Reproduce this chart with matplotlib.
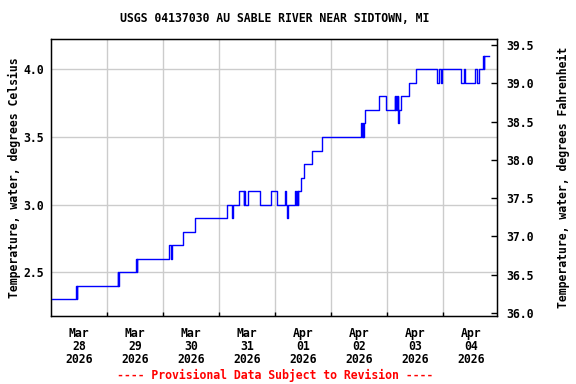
import matplotlib
matplotlib.use('Agg')
import matplotlib.pyplot as plt
import pandas as pd

# step change points (water temperature, deg C)
times = ['2026-03-28 00:00', '2026-03-28 10:45', '2026-03-28 11:00', '2026-03-28 11:15',
         '2026-03-29 04:30', '2026-03-29 04:45', '2026-03-29 05:00',
         '2026-03-29 12:30', '2026-03-29 12:45', '2026-03-29 13:00',
         '2026-03-30 02:45', '2026-03-30 03:30', '2026-03-30 03:45', '2026-03-30 08:45',
         '2026-03-30 13:45',
         '2026-03-31 03:15', '2026-03-31 05:45', '2026-03-31 06:00', '2026-03-31 08:45',
         '2026-03-31 10:30', '2026-03-31 10:45', '2026-03-31 11:00', '2026-03-31 12:30',
         '2026-03-31 17:45', '2026-03-31 22:15',
         '2026-04-01 00:45', '2026-04-01 04:15', '2026-04-01 04:30', '2026-04-01 05:15',
         '2026-04-01 05:30', '2026-04-01 08:45', '2026-04-01 09:00', '2026-04-01 09:30',
         '2026-04-01 09:45', '2026-04-01 10:00', '2026-04-01 11:15', '2026-04-01 12:30',
         '2026-04-01 15:45', '2026-04-01 20:15',
         '2026-04-02 13:00', '2026-04-02 13:15', '2026-04-02 13:30', '2026-04-02 13:45',
         '2026-04-02 14:15', '2026-04-02 14:45', '2026-04-02 20:30', '2026-04-02 23:30',
         '2026-04-03 03:15', '2026-04-03 03:30', '2026-04-03 03:45', '2026-04-03 04:15',
         '2026-04-03 04:30', '2026-04-03 04:45', '2026-04-03 05:15', '2026-04-03 06:00',
         '2026-04-03 09:30', '2026-04-03 12:30', '2026-04-03 21:15', '2026-04-03 22:15',
         '2026-04-03 23:00', '2026-04-03 23:45',
         '2026-04-04 07:45', '2026-04-04 09:00', '2026-04-04 09:30', '2026-04-04 13:30',
         '2026-04-04 14:30', '2026-04-04 15:15', '2026-04-04 17:15', '2026-04-04 17:30',
         '2026-04-04 17:45', '2026-04-04 19:45']
temps = [2.3, 2.4, 2.3, 2.4,
         2.5, 2.4, 2.5,
         2.6, 2.5, 2.6,
         2.7, 2.6, 2.7, 2.8,
         2.9,
         3.0, 2.9, 3.0, 3.1,
         3.0, 3.1, 3.0, 3.1,
         3.0, 3.1,
         3.0, 3.1, 3.0, 2.9,
         3.0, 3.1, 3.0, 3.1,
         3.0, 3.1, 3.2, 3.3,
         3.4, 3.5,
         3.6, 3.5, 3.6, 3.5,
         3.6, 3.7, 3.8, 3.7,
         3.8, 3.7, 3.8, 3.7,
         3.8, 3.6, 3.7, 3.8,
         3.9, 4.0, 3.9, 4.0,
         3.9, 4.0,
         3.9, 4.0, 3.9, 4.0,
         3.9, 4.0, 4.1, 4.0,
         4.1, 4.1]

day_labels = ['Mar\n28\n2026', 'Mar\n29\n2026', 'Mar\n30\n2026', 'Mar\n31\n2026',
              'Apr\n01\n2026', 'Apr\n02\n2026', 'Apr\n03\n2026', 'Apr\n04\n2026']
c_ticks = [2.5, 3.0, 3.5, 4.0]
f_ticks = [36.0, 36.5, 37.0, 37.5, 38.0, 38.5, 39.0, 39.5]

df = pd.DataFrame({'time': pd.to_datetime(times), 'temp': temps})

font = {'family': 'DejaVu Sans Mono', 'weight': 'bold', 'size': 8.3}

fig = plt.figure(figsize=(5.76, 3.84), dpi=100)
ax = fig.add_axes([51/576, 1 - 316/384, 446/576, 277/384])

ax.plot(df.time, df.temp, color='#0000ff', lw=1, drawstyle='steps-post', zorder=3)

start = pd.Timestamp('2026-03-28')
ax.set_xlim(start, start + pd.Timedelta(days=7.964))
ax.set_ylim(2.177, 4.224)

midnights = pd.date_range('2026-03-29', '2026-04-04', freq='D')
noons = pd.date_range('2026-03-28 12:00', '2026-04-04 12:00', freq='D')
ax.set_xticks(midnights)
ax.set_xticklabels([])
ax.set_xticks(noons, minor=True)
ax.set_xticklabels(day_labels, minor=True, fontdict=font, linespacing=0.97)
ax.tick_params(axis='x', which='major', direction='in', length=3, width=1)
ax.tick_params(axis='x', which='minor', length=0, pad=8)

ax.set_yticks(c_ticks)
ax.set_yticklabels(['%.1f' % v for v in c_ticks], fontdict=font)
ax.tick_params(axis='y', length=0, pad=5)
ax.grid(True, which='major', color='#cccccc', lw=1)

for s in ax.spines.values():
    s.set_linewidth(1)

ax2 = ax.twinx()
ax2.set_ylim(35.96, 39.58)
ax2.set_yticks(f_ticks)
ax2.set_yticklabels(['%.1f' % v for v in f_ticks], fontdict=font)
ax2.tick_params(axis='y', direction='in', length=4, width=1, pad=7)

ax.set_ylabel('Temperature, water, degrees Celsius', fontdict=font, labelpad=2)
ax2.set_ylabel('Temperature, water, degrees Fahrenheit', fontdict=font, labelpad=16)

fig.text(275/576, 1 - 19/384, 'USGS 04137030 AU SABLE RIVER NEAR SIDTOWN, MI',
         ha='center', va='center', **font)
fig.text(275/576, 1 - 375/384, '---- Provisional Data Subject to Revision ----',
         ha='center', va='center', color='red', **font)

fig.savefig('out.png', dpi=100)
